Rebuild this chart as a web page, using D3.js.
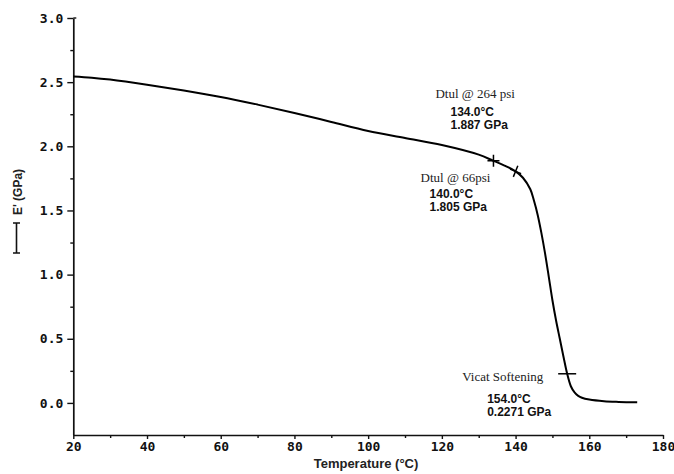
<!DOCTYPE html>
<html>
<head>
<meta charset="utf-8">
<script src="https://cdn.jsdelivr.net/npm/d3@7"></script>
<style>
  body { margin: 0; background: #fff; }
  svg { display: block; }
</style>
</head>
<body>
<svg id="chart"></svg>
<script>
// storage modulus curve
var temps   = [20, 25, 30, 40, 50, 60, 70, 80, 90, 100, 110, 120, 130, 134, 137, 140, 142, 144, 145, 146, 147, 148, 149, 150, 151, 152, 153, 154, 155, 156, 157, 158, 160, 164, 168, 173];
var modulus = [2.545, 2.535, 2.52, 2.48, 2.435, 2.385, 2.325, 2.26, 2.19, 2.12, 2.065, 2.01, 1.935, 1.887, 1.85, 1.805, 1.755, 1.665, 1.575, 1.465, 1.325, 1.165, 0.985, 0.80, 0.64, 0.50, 0.36, 0.227, 0.13, 0.082, 0.055, 0.04, 0.026, 0.013, 0.008, 0.005];

var xTicks = [20, 40, 60, 80, 100, 120, 140, 160, 180];
var xMinor = [30, 50, 70, 90, 110, 130, 150, 170];
var yTicks = [0, 0.5, 1.0, 1.5, 2.0, 2.5, 3.0];
var yMinor = [0.25, 0.75, 1.25, 1.75, 2.25, 2.75];

var markTemps  = [134, 140, 154];
var markValues = [1.887, 1.805, 0.2271];
var markTitles = ["Dtul @ 264 psi", "Dtul @ 66psi", "Vicat Softening"];
var markLine1  = ["134.0°C", "140.0°C", "154.0°C"];
var markLine2  = ["1.887 GPa", "1.805 GPa", "0.2271 GPa"];

var svgWidth = 674, svgHeight = 474;
var svg = d3.select("#chart")
    .attr("width", svgWidth)
    .attr("height", svgHeight);

var x = d3.scaleLinear().domain([20, 180]).range([73.3, 663]);
var y = d3.scaleLinear().domain([-0.25, 3.0]).range([435, 18]);

var tickFont = "'DejaVu Sans Mono', monospace";

// x axis
svg.append("g")
    .attr("transform", "translate(0," + y(-0.25) + ")")
    .call(d3.axisBottom(x).tickValues(xTicks).tickSize(4).tickSizeOuter(0).tickPadding(3)
        .tickFormat(d3.format("d")));
svg.append("g")
    .attr("transform", "translate(0," + y(-0.25) + ")")
    .call(d3.axisBottom(x).tickValues(xMinor).tickSize(3).tickFormat(""))
    .select(".domain").remove();

// y axis
svg.append("g")
    .attr("transform", "translate(" + x(20) + ",0)")
    .call(d3.axisLeft(y).tickValues(yTicks).tickSize(6).tickSizeOuter(0).tickPadding(4)
        .tickFormat(d3.format(".1f")));
svg.append("g")
    .attr("transform", "translate(" + x(20) + ",0)")
    .call(d3.axisLeft(y).tickValues(yMinor).tickSize(3).tickFormat(""))
    .select(".domain").remove();

svg.selectAll(".domain").attr("stroke", "#111").attr("stroke-width", 1.7);
svg.selectAll(".tick line").attr("stroke", "#111").attr("stroke-width", 1.4);
svg.selectAll(".tick text")
    .attr("font-family", tickFont)
    .attr("font-weight", "bold")
    .attr("font-size", "13px")
    .attr("fill", "#111");

// little hook at top of y axis
svg.append("line")
    .attr("x1", x(20)).attr("x2", x(20) + 3)
    .attr("y1", y(3.0)).attr("y2", y(3.0))
    .attr("stroke", "#111").attr("stroke-width", 1.4);

// axis titles
svg.append("text")
    .attr("x", 366)
    .attr("y", 468)
    .attr("text-anchor", "middle")
    .attr("font-family", "'Liberation Sans', Arial, sans-serif")
    .attr("font-size", "13px")
    .attr("font-weight", "bold")
    .attr("fill", "#222")
    .text("Temperature (°C)");

var yTitle = svg.append("g").attr("transform", "translate(22,0)");
yTitle.append("text")
    .attr("transform", "translate(0,192) rotate(-90)")
    .attr("text-anchor", "middle")
    .attr("font-family", "'Liberation Sans', Arial, sans-serif")
    .attr("font-size", "12px")
    .attr("font-weight", "bold")
    .attr("fill", "#222")
    .text("E' (GPa)");
// line-style key [----]
yTitle.append("path")
    .attr("d", "M-9,223 H-2 M-5.5,223 V253 M-9,253 H-2")
    .attr("fill", "none")
    .attr("stroke", "#111")
    .attr("stroke-width", 1.6);

// curve
var line = d3.line()
    .x(function(d, i) { return x(temps[i]); })
    .y(function(d) { return y(d); })
    .curve(d3.curveCatmullRom.alpha(0.5));

svg.append("path")
    .datum(modulus)
    .attr("fill", "none")
    .attr("stroke", "#000")
    .attr("stroke-width", 2)
    .attr("stroke-linejoin", "round")
    .attr("d", line);

// markers
markTemps.forEach(function(t, i) {
    var cx = x(t), cy = y(markValues[i]);
    var g = svg.append("g").attr("transform", "translate(" + cx + "," + cy + ")");
    if (i == 2) {
        g.append("path").attr("d", "M-9,0 H9");
    } else {
        g.attr("transform", "translate(" + cx + "," + cy + ") rotate(" + (i == 0 ? 0 : 22) + ")");
        g.append("path").attr("d", "M-6,0 H6 M0,-6 V6");
    }
    g.selectAll("path").attr("stroke", "#000").attr("stroke-width", 1.5).attr("fill", "none");
});

// annotation text, placed relative to each marker
var titleOff = [[-58, -63], [-95, 11], [-105, 7]];
var valueOff = [[-43, -45], [-86, 27], [-80, 29]];
markTemps.forEach(function(t, i) {
    var cx = x(t), cy = y(markValues[i]);
    svg.append("text")
        .attr("x", cx + titleOff[i][0])
        .attr("y", cy + titleOff[i][1])
        .attr("font-family", "'Liberation Serif', 'Times New Roman', serif")
        .attr("font-size", "13px")
        .attr("fill", "#222")
        .text(markTitles[i]);
    var tv = svg.append("text")
        .attr("x", cx + valueOff[i][0])
        .attr("y", cy + valueOff[i][1])
        .attr("font-family", "'Liberation Sans', Arial, sans-serif")
        .attr("font-weight", "bold")
        .attr("font-size", "12px")
        .attr("fill", "#111");
    tv.append("tspan").text(markLine1[i]);
    tv.append("tspan")
        .attr("x", cx + valueOff[i][0])
        .attr("dy", 13)
        .text(markLine2[i]);
});
</script>
</body>
</html>
